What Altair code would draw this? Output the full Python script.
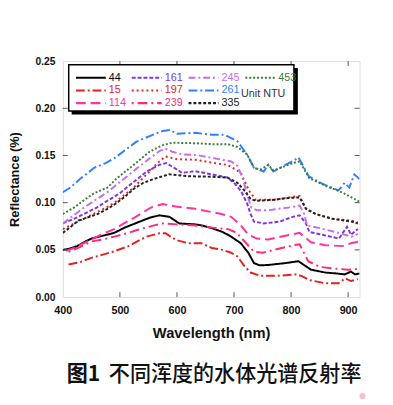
import altair as alt
import pandas as pd

# ---- data ----
wl_44 = [400, 410, 425, 440, 450, 470, 490, 510, 535, 552, 569, 587, 604, 632, 643, 661, 680, 695, 712, 725, 735, 745, 760, 790, 813, 825, 835, 860, 880, 894, 905, 912, 920]
r_44 = [0.050, 0.051, 0.054, 0.059, 0.062, 0.065, 0.068, 0.074, 0.080, 0.084, 0.0866, 0.085, 0.078, 0.077, 0.076, 0.073, 0.069, 0.064, 0.057, 0.047, 0.036, 0.0336, 0.034, 0.036, 0.038, 0.033, 0.029, 0.026, 0.025, 0.024, 0.027, 0.024, 0.025]

wl_15 = [410, 430, 450, 470, 490, 515, 535, 547, 569, 580, 598, 620, 643, 661, 680, 695, 706, 712, 718, 729, 746, 775, 809, 820, 832, 860, 883, 895, 905, 917]
r_15 = [0.0346, 0.037, 0.0416, 0.045, 0.0485, 0.054, 0.0606, 0.064, 0.0676, 0.0676, 0.0606, 0.057, 0.057, 0.052, 0.050, 0.047, 0.043, 0.038, 0.033, 0.026, 0.0225, 0.0225, 0.024, 0.022, 0.018, 0.0146, 0.0146, 0.020, 0.017, 0.019]

wl_114 = [405, 420, 440, 450, 470, 490, 507, 525, 541, 555, 575, 598, 632, 661, 678, 695, 712, 725, 740, 760, 790, 815, 835, 860, 890, 905, 920]
r_114 = [0.049, 0.052, 0.058, 0.061, 0.067, 0.072, 0.078, 0.084, 0.090, 0.095, 0.0985, 0.096, 0.0935, 0.090, 0.088, 0.085, 0.076, 0.066, 0.062, 0.061, 0.065, 0.068, 0.058, 0.055, 0.054, 0.057, 0.059]

wl_161 = [400, 420, 440, 460, 478, 500, 520, 547, 569, 581, 595, 609, 632, 661, 689, 700, 712, 723, 729, 735, 752, 780, 803, 815, 826, 832, 855, 884, 898, 905, 917]
r_161 = [0.078, 0.083, 0.089, 0.095, 0.102, 0.110, 0.120, 0.133, 0.140, 0.142, 0.137, 0.1316, 0.1334, 0.130, 0.1265, 0.121, 0.1126, 0.099, 0.088, 0.080, 0.078, 0.080, 0.085, 0.0866, 0.078, 0.069, 0.066, 0.062, 0.0745, 0.066, 0.072]

wl_197 = [400, 420, 440, 460, 480, 495, 524, 547, 569, 580, 600, 632, 666, 689, 712, 726, 738, 769, 800, 815, 826, 843, 872, 906, 917]
r_197 = [0.072, 0.078, 0.084, 0.090, 0.096, 0.102, 0.116, 0.130, 0.1437, 0.149, 0.146, 0.1455, 0.142, 0.140, 0.1316, 0.113, 0.103, 0.103, 0.106, 0.107, 0.094, 0.088, 0.083, 0.081, 0.079]

wl_239 = [410, 430, 450, 470, 490, 515, 530, 560, 575, 600, 630, 649, 670, 690, 705, 720, 735, 750, 770, 805, 815, 830, 850, 880, 900, 920]
r_239 = [0.048, 0.053, 0.0589, 0.061, 0.064, 0.068, 0.071, 0.076, 0.078, 0.077, 0.076, 0.0745, 0.073, 0.072, 0.068, 0.058, 0.048, 0.047, 0.050, 0.055, 0.056, 0.038, 0.032, 0.030, 0.029, 0.030]

wl_245 = [400, 420, 440, 460, 480, 500, 525, 550, 570, 580, 592, 610, 635, 665, 695, 706, 715, 723, 730, 740, 760, 797, 815, 823, 828, 850, 877, 906, 917]
r_245 = [0.078, 0.087, 0.096, 0.104, 0.112, 0.122, 0.134, 0.146, 0.155, 0.157, 0.154, 0.151, 0.1505, 0.147, 0.1437, 0.139, 0.126, 0.109, 0.095, 0.092, 0.092, 0.095, 0.097, 0.088, 0.076, 0.073, 0.069, 0.064, 0.067]

wl_261 = [400, 413, 430, 455, 475, 490, 510, 529, 550, 575, 588, 600, 632, 661, 683, 706, 723, 735, 752, 760, 769, 790, 803, 813, 831, 855, 883, 894, 902, 911, 920]
r_261 = [0.111, 0.116, 0.125, 0.137, 0.142, 0.147, 0.156, 0.1646, 0.170, 0.176, 0.177, 0.173, 0.174, 0.172, 0.172, 0.165, 0.151, 0.137, 0.133, 0.140, 0.133, 0.140, 0.144, 0.148, 0.128, 0.120, 0.113, 0.121, 0.116, 0.130, 0.125]

wl_335 = [400, 415, 427, 461, 480, 495, 510, 525, 541, 564, 586, 620, 661, 689, 706, 718, 729, 738, 769, 795, 815, 826, 843, 872, 906, 917]
r_335 = [0.068, 0.075, 0.081, 0.088, 0.094, 0.100, 0.107, 0.115, 0.121, 0.126, 0.130, 0.128, 0.1275, 0.1265, 0.121, 0.113, 0.104, 0.102, 0.103, 0.105, 0.1056, 0.0935, 0.088, 0.083, 0.080, 0.078]

wl_453 = [400, 420, 440, 455, 478, 495, 524, 552, 575, 592, 632, 661, 689, 706, 723, 735, 746, 760, 769, 803, 815, 832, 860, 889, 906, 920]
r_453 = [0.088, 0.095, 0.104, 0.110, 0.116, 0.126, 0.140, 0.154, 0.161, 0.1635, 0.163, 0.162, 0.162, 0.159, 0.151, 0.137, 0.135, 0.140, 0.134, 0.142, 0.1437, 0.126, 0.118, 0.111, 0.1056, 0.101]

# legend order (row-major, 4 columns; " " is an empty slot where "Unit NTU" sits)
order = ["44", "161", "245", "453", "15", "197", "261", " ", "114", "239", "335"]
colors = ["#000000", "#7f35e6", "#c46ef0", "#3a7d3a", "#e3211f", "#e52222", "#3080ff", "rgba(0,0,0,0)", "#ff3399", "#ff2b7a", "#222222"]
dashes = [[1, 0], [4, 2], [7, 3, 2, 3], [2, 2], [9, 3, 2, 3], [2, 3], [9, 3, 2, 3], [1, 0], [10, 5], [2, 4, 10, 4], [3, 2]]

x_ticks = [400, 500, 600, 700, 800, 900]
y_ticks = [0.0, 0.05, 0.10, 0.15, 0.20, 0.25]
inner_x = [500, 600, 700, 800, 900]
inner_y = [0.05, 0.10, 0.15, 0.20]

caption_fig = "图1"
caption_text = "不同浑度的水体光谱反射率"
unit_text = "Unit  NTU"

series = {
    "44": (wl_44, r_44), "15": (wl_15, r_15), "114": (wl_114, r_114),
    "161": (wl_161, r_161), "197": (wl_197, r_197), "239": (wl_239, r_239),
    "245": (wl_245, r_245), "261": (wl_261, r_261), "335": (wl_335, r_335),
    "453": (wl_453, r_453),
}
rows = []
for name, (wl, rr) in series.items():
    for w, v in zip(wl, rr):
        rows.append({"turb": name, "wl": w, "r": v})
df = pd.DataFrame(rows)

W, H = 303, 241
FONT = "Liberation Sans"

x_scale = alt.Scale(domain=[400, 920], nice=False, zero=False)
y_scale = alt.Scale(domain=[0, 0.25], nice=False)

color_map = ",".join(f"'{k}':'{c}'" for k, c in zip(order, colors))
leg = dict(
    orient="none", legendX=12, legendY=9, columns=4, direction="horizontal", title=None,
    symbolType="M-1,0H3.6", symbolSize=176, symbolStrokeWidth=2.2,
    labelOffset=19, labelFont=FONT, labelFontSize=11,
    padding=0, rowPadding=0, columnPadding=0,
    labelColor={"expr": "{" + color_map + "}[datum.value]"},
)

lines = alt.Chart(df).mark_line(strokeWidth=2, clip=True).encode(
    x=alt.X("wl:Q", scale=x_scale, axis=alt.Axis(
        values=x_ticks, title="Wavelength (nm)", tickSize=0, labelPadding=8, domain=False,
        grid=False, labelFlush=False, labelFont=FONT, labelFontWeight="bold", labelFontSize=11,
        labelColor="#111", titleFont=FONT, titleFontWeight="bold", titleFontSize=15,
        titleColor="#111", titleY=29)),
    y=alt.Y("r:Q", scale=y_scale, axis=alt.Axis(
        values=y_ticks, format=".2f", title="Reflectance (%)", tickSize=0, labelPadding=8,
        domain=False, grid=False, labelFlush=False, labelFont=FONT, labelFontWeight="bold",
        labelFontSize=10.5, labelColor="#111", titleFont=FONT, titleFontWeight="bold",
        titleFontSize=13, titleColor="#111", titleX=-42, titleY=H / 2)),
    color=alt.Color("turb:N", scale=alt.Scale(domain=order, range=colors), legend=alt.Legend(**leg)),
    strokeDash=alt.StrokeDash("turb:N", scale=alt.Scale(domain=order, range=dashes), legend=alt.Legend(**leg)),
    detail="turb:N",
)

ydf = pd.DataFrame({"r": inner_y})
xdf = pd.DataFrame({"wl": inner_x})
tick_col = "#555555"
t_left = alt.Chart(ydf).mark_rule(color=tick_col, strokeWidth=1).encode(y=alt.Y("r:Q", scale=y_scale), x=alt.value(0), x2=alt.value(5))
t_right = alt.Chart(ydf).mark_rule(color=tick_col, strokeWidth=1).encode(y=alt.Y("r:Q", scale=y_scale), x=alt.value(W - 5), x2=alt.value(W))
t_bot = alt.Chart(xdf).mark_rule(color=tick_col, strokeWidth=1).encode(x=alt.X("wl:Q", scale=x_scale), y=alt.value(H - 5), y2=alt.value(H))
t_top = alt.Chart(xdf).mark_rule(color=tick_col, strokeWidth=1).encode(x=alt.X("wl:Q", scale=x_scale), y=alt.value(0), y2=alt.value(5))

one = pd.DataFrame({"k": [0]})
shadow = alt.Chart(one).mark_rect(color="#000000").encode(
    x=alt.value(9), x2=alt.value(240), y=alt.value(7), y2=alt.value(54.5))
box = alt.Chart(one).mark_rect(fill="white", stroke="#000000", strokeWidth=1.5).encode(
    x=alt.value(6), x2=alt.value(236), y=alt.value(3.7), y2=alt.value(51))
unit = alt.Chart(one).mark_text(text=unit_text, font=FONT, fontSize=11, color="#333333",
                                align="left", baseline="middle").encode(
    x=alt.value(182), y=alt.value(34))

cap1 = alt.Chart(one).mark_text(text=caption_fig, font="Noto Sans CJK SC", fontSize=21.5,
                                fontWeight="bold", color="#111111", align="left",
                                baseline="middle").encode(x=alt.value(4), y=alt.value(321))
cap2 = alt.Chart(one).mark_text(text=caption_text, font="Noto Sans CJK SC", fontSize=21.5,
                                fontWeight=500, color="#111111", align="left",
                                baseline="middle").encode(x=alt.value(47), y=alt.value(321))
dot = alt.Chart(one).mark_point(filled=True, color="#f6b8c4", size=40, opacity=0.9).encode(
    x=alt.value(306), y=alt.value(342))

chart = alt.layer(lines, t_left, t_right, t_bot, t_top, shadow, box, unit, cap1, cap2, dot).properties(
    width=W, height=H,
    autosize=alt.AutoSizeParams(type="none"),
    padding={"left": 56, "top": 50, "right": 26, "bottom": 106},
).configure_view(stroke="#4d4d4d", strokeWidth=1.3).configure(background="white")

chart.save("out.html", embed_options={"renderer": "svg", "actions": False})
